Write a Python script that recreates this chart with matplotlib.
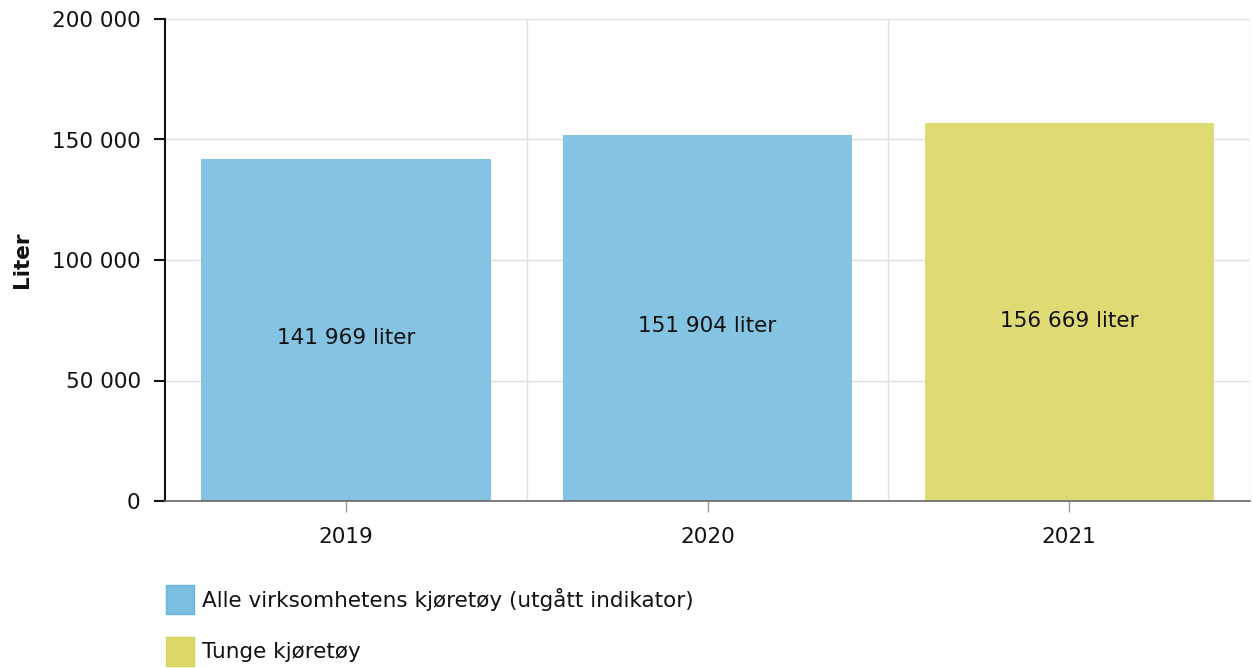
import matplotlib
matplotlib.use("Agg")
import matplotlib.pyplot as plt
from matplotlib.patches import Patch
from matplotlib.ticker import FuncFormatter

years = ["2019", "2020", "2021"]
values = [141969, 151904, 156669]
series = ["Alle virksomhetens kjøretøy (utgått indikator)",
          "Alle virksomhetens kjøretøy (utgått indikator)",
          "Tunge kjøretøy"]
legend_labels = ["Alle virksomhetens kjøretøy (utgått indikator)", "Tunge kjøretøy"]
colors = {"Alle virksomhetens kjøretøy (utgått indikator)": "#7cbfe0",
          "Tunge kjøretøy": "#dcd96a"}
edge_colors = {"Alle virksomhetens kjøretøy (utgått indikator)": "#6ab4dc",
               "Tunge kjøretøy": "#d8d45a"}
yticks = [0, 50000, 100000, 150000, 200000]

FS = 15.5
plt.rcParams['font.family'] = ['DejaVu Sans']
fig = plt.figure(figsize=(12.53, 6.68), dpi=100)
ax = fig.add_axes([165/1253, 1-501/668, (1250-165)/1253, (501-19)/668])

x = list(range(len(years)))
bar_cols = [colors[s] for s in series]
bars = ax.bar(x, values, width=0.8, color=bar_cols, alpha=0.93, zorder=2)

for xi, v in zip(x, values):
    lab = f"{v:,}".replace(",", " ") + " liter"
    ax.annotate(lab, (xi, v/2), xytext=(0, -6), textcoords="offset points",
                ha="center", va="center", fontsize=FS, color="#111111", zorder=3)

ax.set_xlim(-0.5, 2.5)
ax.set_ylim(0, 200000)
ax.set_yticks(yticks)
ax.yaxis.set_major_formatter(FuncFormatter(lambda v, p: f"{int(v):,}".replace(",", " ")))
ax.set_xticks(x)
ax.set_xticklabels(years)
ax.set_xticks([0.5, 1.5, 2.5], minor=True)
ax.grid(axis="y", which="major", color="#e0e0e0", linewidth=1.0, zorder=0)
ax.grid(axis="x", which="minor", color="#e0e0e0", linewidth=1.0, zorder=0)
ax.tick_params(axis="x", which="minor", length=0)
ax.tick_params(axis="y", length=8, width=1.5, color="#111111", labelsize=FS, pad=9.5,
               labelcolor="#111111")
ax.tick_params(axis="x", which="major", length=8, width=1, color="#999999", labelsize=FS,
               pad=11, labelcolor="#111111")

for s in ["top", "right"]:
    ax.spines[s].set_visible(False)
ax.spines["left"].set_color("#111111")
ax.spines["left"].set_linewidth(1.5)
ax.spines["bottom"].set_color("#666666")
ax.spines["bottom"].set_linewidth(1.2)

ax.set_ylabel("Liter", fontsize=FS, fontweight="bold", color="#111111")
ax.yaxis.set_label_coords((32-165)/1085, 0.5)

handles = [Patch(facecolor=colors[l], edgecolor=edge_colors[l], linewidth=1) for l in legend_labels]
leg = fig.legend(handles, legend_labels, loc="upper left",
                 bbox_to_anchor=(162/1253, 1-581/668), frameon=False, fontsize=FS,
                 handlelength=1.3, handleheight=1.7, handletextpad=0.35, labelspacing=1.05,
                 borderaxespad=0, borderpad=0.2)
for t in leg.get_texts():
    t.set_color("#111111")

fig.savefig("out.png", dpi=100)
